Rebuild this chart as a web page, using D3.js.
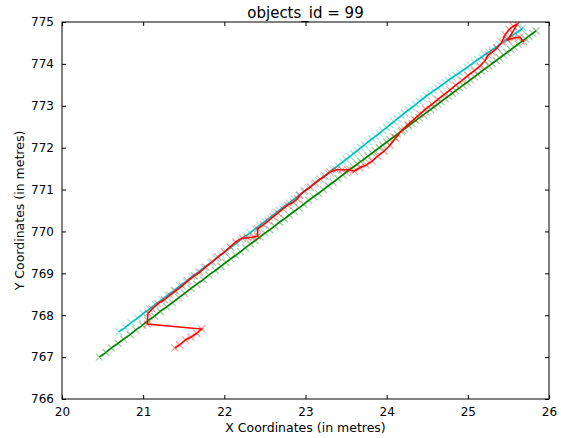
<!DOCTYPE html>
<html>
<head>
<meta charset="utf-8">
<script src="https://cdn.jsdelivr.net/npm/d3@7/dist/d3.min.js"></script>
<style>
  html, body { margin: 0; padding: 0; background: #fff; }
  svg { display: block; font-family: "DejaVu Sans", sans-serif; }
</style>
</head>
<body>
<svg id="chart" width="561" height="438"></svg>
<script>
// Track positions for object 99, three estimates of the same trajectory.
const title = "objects_id = 99";
const xLabel = "X Coordinates (in metres)";
const yLabel = "Y Coordinates (in metres)";
const xTicks = [20, 21, 22, 23, 24, 25, 26];
const yTicks = [766, 767, 768, 769, 770, 771, 772, 773, 774, 775];

const cyanX = [20.70,20.78,20.85,20.93,21.00,21.08,21.15,21.23,21.30,21.38,21.45,21.53,21.60,21.68,21.75,21.83,21.90,21.96,
  22.02,22.08,22.14,22.20,22.26,22.32,22.38,22.44,22.50,22.56,22.62,22.68,22.74,22.80,22.86,22.92,22.98,23.04,23.10,23.16,
  23.22,23.28,23.34,23.40,23.46,23.50,23.55,23.59,23.64,23.68,23.73,23.77,23.82,23.86,23.91,23.95,24.00,24.04,24.09,24.13,
  24.18,24.22,24.27,24.31,24.36,24.40,24.45,24.49,24.54,24.58,24.63,24.67,24.72,24.76,24.81,24.85,24.90,24.94,24.99,25.03,
  25.08,25.12,25.17,25.21,25.26,25.30,25.35,25.39,25.44,25.48,25.53,25.57,25.62,25.66,25.68];
const cyanY = [767.60,767.71,767.82,767.93,768.04,768.15,768.26,768.37,768.48,768.59,768.70,768.81,768.92,769.03,769.14,769.25,769.36,769.44,
  769.53,769.62,769.71,769.80,769.89,769.97,770.06,770.15,770.24,770.33,770.42,770.51,770.60,770.68,770.77,770.86,770.95,771.04,771.13,771.22,
  771.31,771.39,771.48,771.57,771.66,771.72,771.79,771.86,771.93,772.00,772.07,772.14,772.21,772.27,772.34,772.41,772.48,772.55,772.62,772.69,
  772.76,772.83,772.90,772.96,773.03,773.10,773.17,773.24,773.30,773.36,773.42,773.48,773.55,773.61,773.67,773.73,773.79,773.85,773.91,773.97,
  774.04,774.10,774.16,774.22,774.28,774.34,774.40,774.46,774.53,774.59,774.65,774.71,774.77,774.83,774.86];

const greenX = [20.46,20.54,20.61,20.69,20.76,20.84,20.91,20.99,21.06,21.14,21.21,21.29,21.36,21.44,21.51,21.59,21.66,21.74,21.81,21.89,21.96,
  22.02,22.08,22.14,22.20,22.26,22.32,22.38,22.44,22.50,22.56,22.62,22.68,22.74,22.80,22.86,22.92,22.98,23.04,23.10,23.16,23.22,23.28,23.34,23.40,23.46,
  23.50,23.55,23.59,23.64,23.68,23.73,23.77,23.82,23.86,23.91,23.95,24.00,24.04,24.09,24.13,24.18,24.22,24.27,24.31,24.36,24.40,24.45,24.49,24.54,
  24.58,24.63,24.67,24.72,24.76,24.81,24.85,24.90,24.94,24.99,25.03,25.08,25.12,25.17,25.21,25.26,25.30,25.35,25.39,25.44,25.48,25.53,25.57,25.62,
  25.66,25.71,25.75,25.80,25.84];
const greenY = [767.00,767.11,767.22,767.33,767.43,767.54,767.65,767.76,767.87,767.98,768.09,768.20,768.30,768.42,768.52,768.64,768.74,768.85,768.96,769.07,769.17,
  769.26,769.35,769.43,769.52,769.61,769.70,769.78,769.87,769.96,770.04,770.13,770.22,770.30,770.39,770.48,770.56,770.65,770.74,770.83,770.91,771.00,771.09,771.17,771.26,771.35,
  771.41,771.48,771.54,771.61,771.67,771.74,771.80,771.87,771.93,772.00,772.06,772.13,772.19,772.26,772.32,772.39,772.45,772.52,772.58,772.65,772.71,772.78,772.84,772.91,
  772.97,773.04,773.10,773.17,773.23,773.30,773.36,773.43,773.49,773.56,773.62,773.69,773.75,773.82,773.88,773.95,774.01,774.08,774.14,774.21,774.27,774.34,774.40,774.47,
  774.53,774.60,774.66,774.73,774.79];

const redX = [21.39,21.45,21.52,21.59,21.66,21.72,21.05,21.06,21.11,21.18,21.26,21.33,21.40,21.48,21.55,21.63,21.70,21.77,21.85,21.92,22.00,
  22.07,22.14,22.22,22.29,22.36,22.41,22.41,22.48,22.54,22.60,22.66,22.72,22.78,22.85,22.90,22.93,22.99,23.06,23.12,23.18,23.24,23.30,
  23.38,23.45,23.52,23.60,23.67,23.75,23.82,23.89,23.97,24.04,24.11,24.19,24.26,24.34,24.41,24.48,24.56,24.63,24.71,24.78,24.85,24.93,
  25.00,25.08,25.15,25.21,25.25,25.30,25.36,25.42,25.46,25.51,25.56,25.61,25.49,25.57,25.64,25.69];
const redY = [767.22,767.29,767.41,767.48,767.57,767.67,767.79,768.05,768.15,768.27,768.37,768.48,768.58,768.70,768.82,768.94,769.03,769.15,769.27,769.39,769.51,
  769.63,769.75,769.84,769.85,769.87,769.89,770.06,770.16,770.25,770.35,770.44,770.54,770.63,770.70,770.78,770.87,770.97,771.06,771.16,771.25,771.32,771.42,
  771.47,771.47,771.47,771.44,771.52,771.59,771.68,771.80,771.92,772.06,772.23,772.42,772.55,772.68,772.80,772.92,773.04,773.15,773.27,773.38,773.49,773.61,
  773.72,773.84,773.95,774.07,774.21,774.28,774.38,774.52,774.70,774.82,774.90,774.95,774.57,774.62,774.64,774.52];

const series = [
  { name: "cyan", xs: cyanX, ys: cyanY, color: "#00bfbf" },
  { name: "green", xs: greenX, ys: greenY, color: "#008000" },
  { name: "red", xs: redX, ys: redY, color: "#ff0000" }
];

const svg = d3.select("#chart");
const margin = { left: 62, right: 12, top: 22, bottom: 39 };
const W = 561, H = 438;

const x = d3.scaleLinear().domain([20, 26]).range([margin.left, W - margin.right]);
const y = d3.scaleLinear().domain([766, 775]).range([H - margin.bottom, margin.top]);

svg.append("defs").append("clipPath").attr("id", "plotClip")
  .append("rect")
  .attr("x", x(20)).attr("y", y(775))
  .attr("width", x(26) - x(20)).attr("height", y(766) - y(775));

const plot = svg.append("g").attr("clip-path", "url(#plotClip)");
const line = d3.line().x(d => x(d[0])).y(d => y(d[1]));
const m = 3.5;

series.forEach(s => {
  const pts = s.xs.map((v, i) => [v, s.ys[i]]);
  plot.append("path")
    .attr("class", "trace-" + s.name)
    .attr("d", line(pts))
    .attr("fill", "none")
    .attr("stroke", s.color)
    .attr("stroke-width", 1.5);
  const crosses = pts.map(d => {
    const cx = x(d[0]), cy = y(d[1]);
    return `M${cx - m},${cy - m}L${cx + m},${cy + m}M${cx - m},${cy + m}L${cx + m},${cy - m}`;
  }).join("");
  plot.append("path")
    .attr("class", "marks-" + s.name)
    .attr("d", crosses)
    .attr("fill", "none")
    .attr("stroke", s.color)
    .attr("stroke-opacity", 0.4)
    .attr("stroke-width", 1.2);
});

// Axes: ticks point inward on all four sides
const tickLen = 4;
svg.append("g")
  .attr("transform", `translate(0,${y(766)})`)
  .call(d3.axisBottom(x).tickValues(xTicks).tickSizeInner(-tickLen).tickSizeOuter(0).tickPadding(8).tickFormat(d3.format("d")))
  .call(g => g.select(".domain").remove());
svg.append("g")
  .attr("transform", `translate(0,${y(775)})`)
  .call(d3.axisTop(x).tickValues(xTicks).tickSizeInner(-tickLen).tickSizeOuter(0).tickFormat(""))
  .call(g => g.select(".domain").remove());
svg.append("g")
  .attr("transform", `translate(${x(20)},0)`)
  .call(d3.axisLeft(y).tickValues(yTicks).tickSizeInner(-tickLen).tickSizeOuter(0).tickPadding(8).tickFormat(d3.format("d")))
  .call(g => g.select(".domain").remove());
svg.append("g")
  .attr("transform", `translate(${x(26)},0)`)
  .call(d3.axisRight(y).tickValues(yTicks).tickSizeInner(-tickLen).tickSizeOuter(0).tickFormat(""))
  .call(g => g.select(".domain").remove());

svg.selectAll(".tick text").attr("font-size", 12).attr("font-family", "DejaVu Sans").attr("fill", "#000");
svg.selectAll(".tick line").attr("stroke", "#000");

svg.append("rect")
  .attr("x", x(20)).attr("y", y(775))
  .attr("width", x(26) - x(20)).attr("height", y(766) - y(775))
  .attr("fill", "none").attr("stroke", "#000").attr("stroke-width", 1);

svg.append("text")
  .attr("x", (x(20) + x(26)) / 2).attr("y", 18)
  .attr("text-anchor", "middle").attr("font-size", 15)
  .text(title);

svg.append("text")
  .attr("x", (x(20) + x(26)) / 2).attr("y", 432)
  .attr("text-anchor", "middle").attr("font-size", 12.5)
  .text(xLabel);

svg.append("text")
  .attr("transform", `translate(24,${(y(766) + y(775)) / 2}) rotate(-90)`)
  .attr("text-anchor", "middle").attr("font-size", 12.5)
  .text(yLabel);
</script>
</body>
</html>
